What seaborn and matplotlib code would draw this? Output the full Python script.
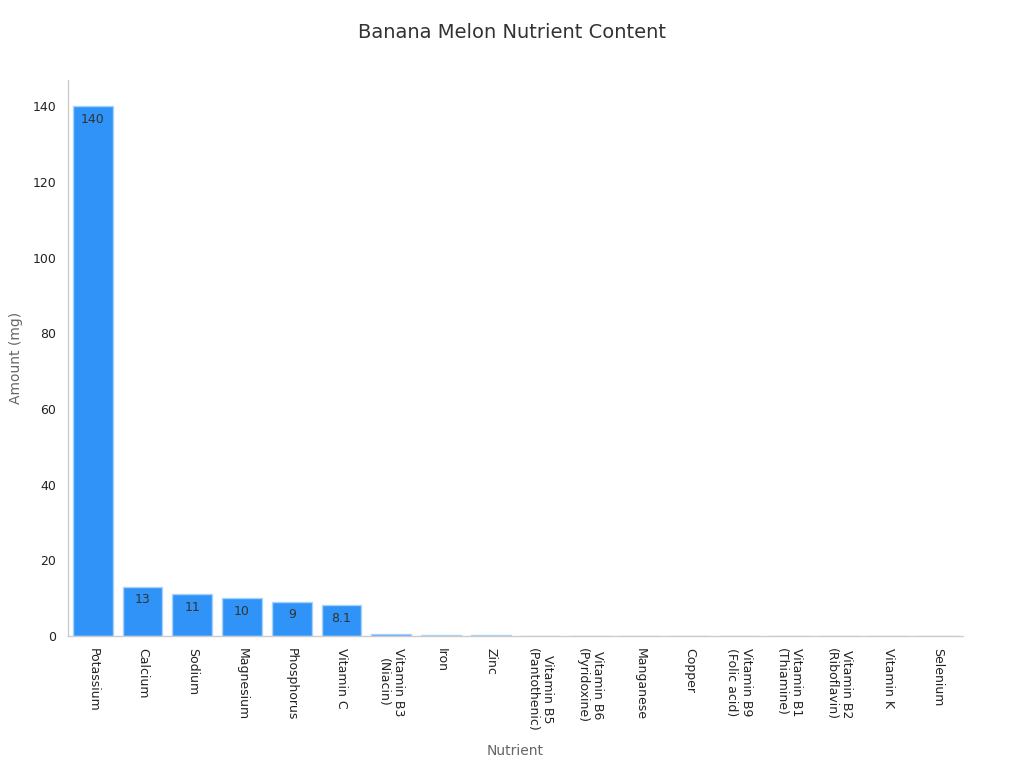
import matplotlib
matplotlib.use("Agg")
import matplotlib.pyplot as plt
import seaborn as sns
import pandas as pd

nutrients = ["Potassium", "Calcium", "Sodium", "Magnesium", "Phosphorus", "Vitamin C",
             "Vitamin B3\n(Niacin)", "Iron", "Zinc", "Vitamin B5\n(Pantothenic)",
             "Vitamin B6\n(Pyridoxine)", "Manganese", "Copper", "Vitamin B9\n(Folic acid)",
             "Vitamin B1\n(Thiamine)", "Vitamin B2\n(Riboflavin)", "Vitamin K", "Selenium"]
amounts = [140, 13, 11, 10, 9, 8.1, 0.5, 0.2, 0.18, 0.1, 0.07, 0.04, 0.04, 0.02,
           0.04, 0.02, 0.0025, 0.0004]
shown_labels = ["140", "13", "11", "10", "9", "8.1"] + [""] * 12

df = pd.DataFrame({"Nutrient": nutrients, "Amount (mg)": amounts})

sns.set_style("white")
plt.rcParams["font.family"] = ["DejaVu Sans"]
fig = plt.figure(figsize=(10.24, 7.68), dpi=100)
ax = fig.add_axes([0.0664, 0.172, 0.874, 0.724])

sns.barplot(data=df, x="Nutrient", y="Amount (mg)", color="#3093F7", saturation=1,
            width=0.8, edgecolor="#A9D2FB", linewidth=1, ax=ax)

ax.bar_label(ax.containers[0], labels=shown_labels, padding=-14, fontsize=9, color="#333333")

ax.set_xlim(-0.5, 17.5)
ax.set_ylim(0, 147)
ax.set_yticks([0, 20, 40, 60, 80, 100, 120, 140])
ax.tick_params(axis="x", labelrotation=270, labelsize=9, colors="#222222", length=5, color="#444444")
ax.tick_params(axis="y", labelsize=9, colors="#222222", length=5, color="#444444")
for lbl in ax.get_xticklabels():
    lbl.set_verticalalignment("top")
    lbl.set_horizontalalignment("center")

for side in ["top", "right"]:
    ax.spines[side].set_visible(False)
for side in ["left", "bottom"]:
    ax.spines[side].set_color("#CCCCCC")
    ax.spines[side].set_linewidth(1)

ax.set_xlabel("Nutrient", fontsize=10, color="#666666", labelpad=9)
ax.set_ylabel("Amount (mg)", fontsize=10, color="#666666", labelpad=7)
fig.suptitle("Banana Melon Nutrient Content", fontsize=14, color="#333333", y=0.97)

fig.savefig("out.png", dpi=100)
